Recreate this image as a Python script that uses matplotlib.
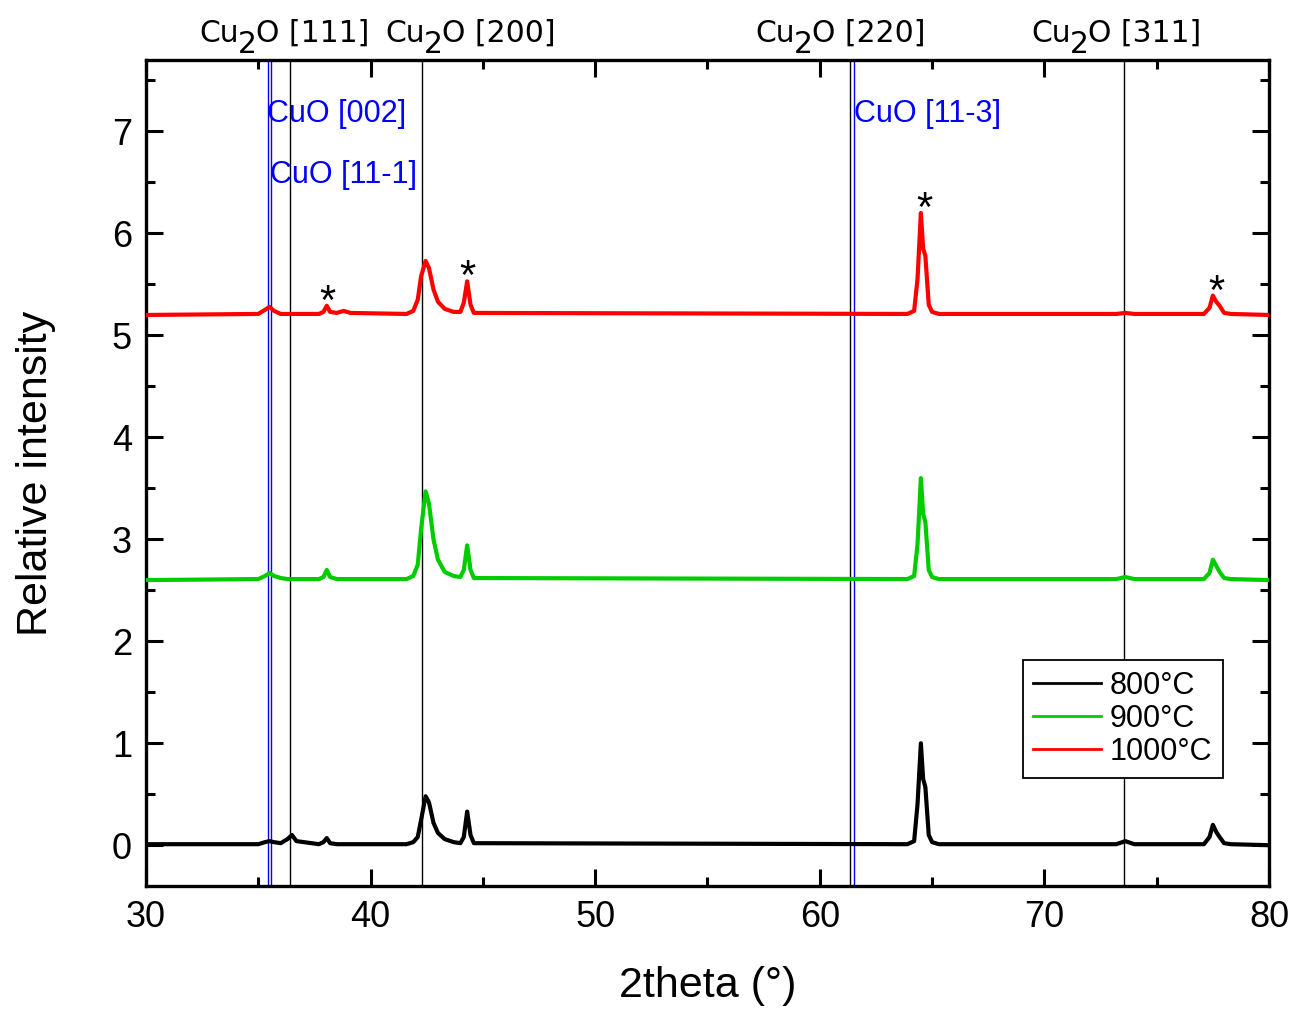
import matplotlib
matplotlib.use("Agg")
import matplotlib.pyplot as plt
import matplotlib.transforms as mtransforms
from matplotlib.ticker import MultipleLocator

plt.rcParams['font.family'] = ['Liberation Sans', 'DejaVu Sans']

# diffraction angle (deg) sampled where the curves change shape
two_theta = [30.0, 35.0, 35.3, 35.5, 35.7, 36.0, 36.3, 36.5, 36.7, 37.7, 37.9, 38.05, 38.2,
             38.5, 38.8, 39.1, 41.6, 41.9, 42.1, 42.25, 42.45, 42.6, 42.8, 43.0, 43.3, 43.7,
             44.0, 44.15, 44.3, 44.45, 44.6, 63.9, 64.2, 64.35, 64.5, 64.6, 64.7, 64.85, 65.0,
             65.3, 73.2, 73.6, 74.0, 77.1, 77.35, 77.5, 77.65, 77.8, 78.0, 78.3, 80.0]

int_800 = [0.01, 0.01, 0.03, 0.04, 0.03, 0.02, 0.06, 0.10, 0.04, 0.01, 0.03, 0.07, 0.02,
           0.01, 0.01, 0.01, 0.01, 0.03, 0.08, 0.25, 0.48, 0.42, 0.22, 0.12, 0.06, 0.03,
           0.02, 0.08, 0.33, 0.10, 0.02, 0.01, 0.04, 0.40, 1.00, 0.65, 0.57, 0.10, 0.03,
           0.01, 0.01, 0.04, 0.01, 0.01, 0.08, 0.20, 0.13, 0.08, 0.02, 0.01, 0.00]

int_900 = [2.60, 2.61, 2.64, 2.67, 2.64, 2.62, 2.61, 2.61, 2.61, 2.61, 2.63, 2.70, 2.63,
           2.61, 2.61, 2.61, 2.61, 2.64, 2.75, 3.10, 3.47, 3.35, 3.00, 2.80, 2.68, 2.64,
           2.63, 2.70, 2.94, 2.70, 2.62, 2.61, 2.64, 2.95, 3.60, 3.25, 3.17, 2.70, 2.63,
           2.61, 2.61, 2.63, 2.61, 2.61, 2.67, 2.80, 2.74, 2.68, 2.62, 2.61, 2.60]

int_1000 = [5.20, 5.21, 5.25, 5.28, 5.24, 5.21, 5.21, 5.21, 5.21, 5.21, 5.23, 5.29, 5.23,
            5.22, 5.24, 5.22, 5.21, 5.24, 5.35, 5.58, 5.73, 5.66, 5.45, 5.33, 5.26, 5.23,
            5.23, 5.32, 5.53, 5.30, 5.22, 5.21, 5.24, 5.55, 6.20, 5.85, 5.78, 5.30, 5.23,
            5.21, 5.21, 5.22, 5.21, 5.21, 5.27, 5.39, 5.33, 5.29, 5.22, 5.21, 5.20]

series_labels = ['800°C', '900°C', '1000°C']
series_colors = ['black', '#00cc00', 'red']

cu2o_pos = [36.42, 42.29, 61.35, 73.54]
cu2o_planes = ['[111]', '[200]', '[220]', '[311]']
cuo_pos = [35.42, 35.55, 61.54]
cuo_labels = ['CuO [002]', 'CuO [11-1]', 'CuO [11-3]']
star_x = [38.10, 44.29, 64.64, 77.64]
star_y = [5.21, 5.45, 6.12, 5.31]

fig = plt.figure(figsize=(12.94, 10.09), dpi=100)
ax = fig.add_axes([0.1128, 0.1219, 0.8679, 0.8186])

for y, lab, c in zip([int_800, int_900, int_1000], series_labels, series_colors):
    ax.plot(two_theta, y, color=c, linewidth=3.0, label=lab, zorder=3)

for p in cu2o_pos:
    ax.axvline(p, color='black', linewidth=1.0, zorder=2)
for p in cuo_pos:
    ax.axvline(p, color='blue', linewidth=1.0, zorder=2)

# Cu2O labels above the frame, with the big dropped "2" of the original
trans = mtransforms.blended_transform_factory(ax.transData, ax.transAxes)
sub_x = [34.50, 42.79, 59.26, 71.54]
for sx, plane in zip(sub_x, cu2o_planes):
    kw = dict(fontsize=21.5, family='DejaVu Sans', va='baseline')
    ax.text(sx, 1.022, 'Cu', ha='right',
            transform=mtransforms.offset_copy(trans, fig, x=-8, y=0, units='dots'), **kw)
    ax.text(sx, 1.022, '2', ha='center',
            transform=mtransforms.offset_copy(trans, fig, x=0, y=-11.5, units='dots'), **kw)
    ax.text(sx, 1.022, 'O ' + plane, ha='left',
            transform=mtransforms.offset_copy(trans, fig, x=9, y=0, units='dots'), **kw)

cuo_text_y = [7.09, 6.49, 7.09]
for p, ty, lab in zip(cuo_pos, cuo_text_y, cuo_labels):
    ax.text(p - 0.02, ty, lab, color='blue', fontsize=22, ha='left', va='baseline')

for sx, sy in zip(star_x, star_y):
    ax.text(sx, sy, '*', fontsize=30, ha='center', va='baseline')

ax.set_xlim(30, 80)
ax.set_ylim(-0.4, 7.7)
ax.xaxis.set_major_locator(MultipleLocator(10))
ax.xaxis.set_minor_locator(MultipleLocator(5))
ax.yaxis.set_major_locator(MultipleLocator(1))
ax.yaxis.set_minor_locator(MultipleLocator(0.5))
ax.tick_params(which='both', direction='in', top=True, right=True, width=2.2)
ax.tick_params(which='major', length=12.5, labelsize=26, pad=10)
ax.tick_params(which='minor', length=6.5)
for sp in ax.spines.values():
    sp.set_linewidth(2.4)

ax.set_xlabel('2theta (°)', fontsize=31)
ax.set_ylabel('Relative intensity', fontsize=31)
ax.xaxis.set_label_coords(0.5, -0.097)
ax.yaxis.set_label_coords(-0.08, 0.5)

leg = ax.legend(loc='upper right', bbox_to_anchor=(0.959, 0.2736), borderaxespad=0,
                fontsize=22, fancybox=False, handlelength=2.2, handletextpad=0.3,
                labelspacing=0.1, borderpad=0.35, framealpha=1)
leg.get_frame().set_edgecolor('black')
leg.get_frame().set_linewidth(1.3)
for line in leg.get_lines():
    line.set_linewidth(2.0)

fig.savefig('out.png', dpi=100)
